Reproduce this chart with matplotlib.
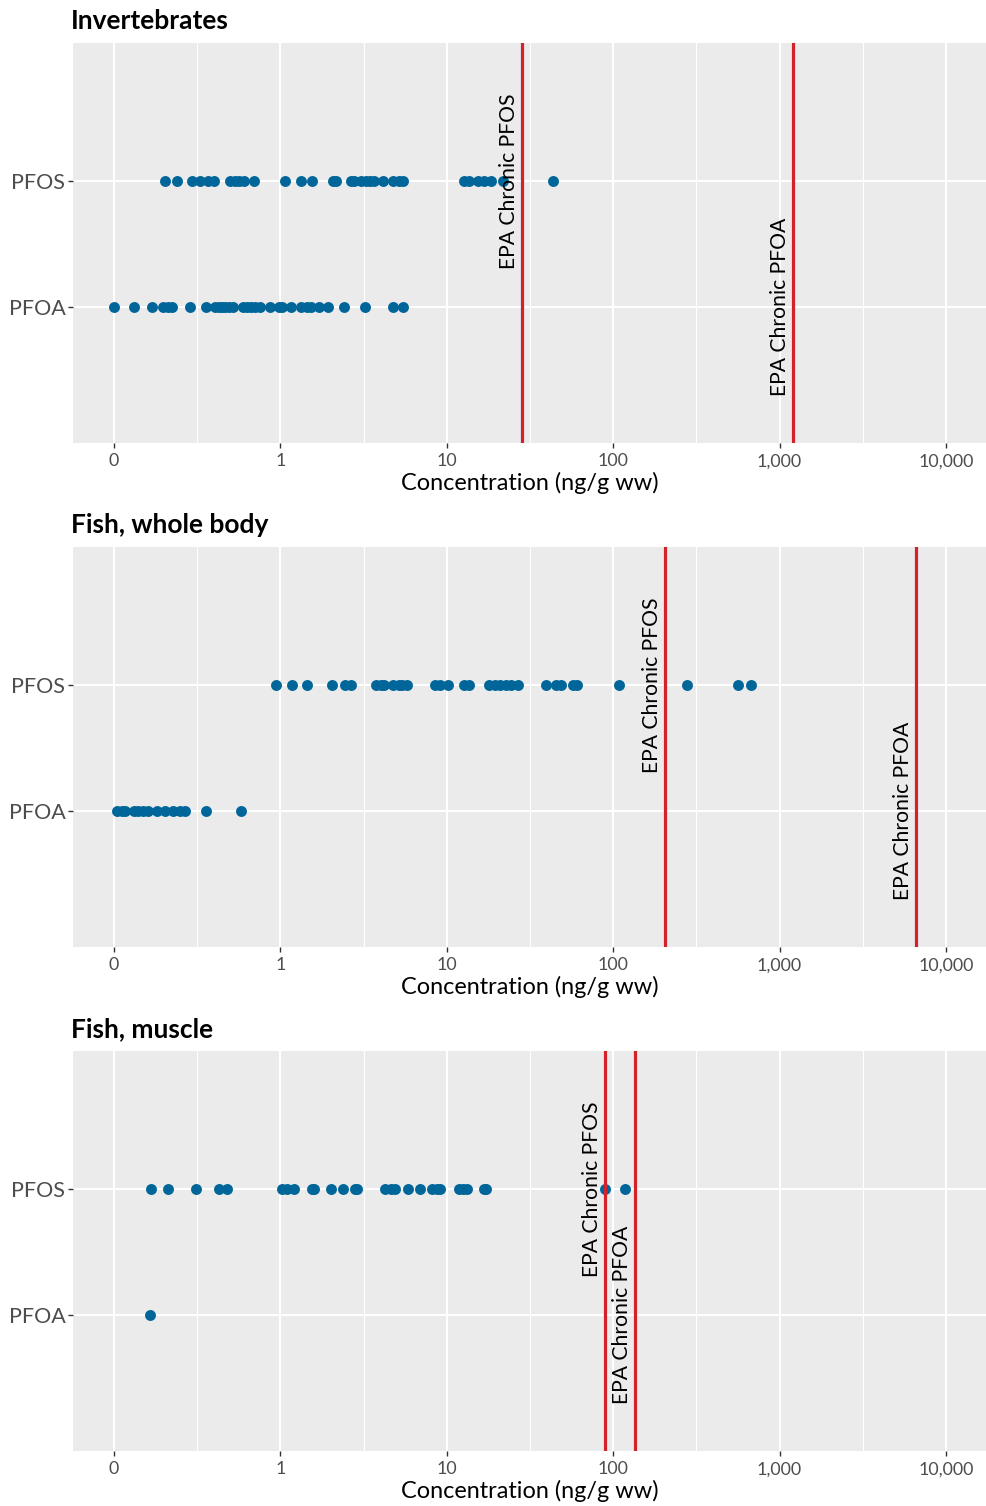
import matplotlib
matplotlib.use("Agg")
import matplotlib.pyplot as plt
import numpy as np

plt.rcParams['font.family'] = ['Lato', 'DejaVu Sans']

# ---------------- data ----------------
panel_titles = ["Invertebrates", "Fish, whole body", "Fish, muscle"]
categories = ["PFOA", "PFOS"]

inv_pfos = [0.203, 0.240, 0.295, 0.330, 0.366, 0.396, 0.500, 0.531, 0.561, 0.601,
            0.697, 1.06, 1.32, 1.54, 2.08, 2.17, 2.67, 2.76, 3.03, 3.25, 3.45, 3.65,
            4.16, 4.77, 5.16, 5.46, 12.6, 13.5, 15.4, 16.8, 18.4, 21.7, 43.4]
inv_pfoa = [0.100, 0.132, 0.170, 0.198, 0.212, 0.223, 0.287, 0.358, 0.406, 0.425,
            0.445, 0.466, 0.488, 0.519, 0.596, 0.630, 0.666, 0.707, 0.750, 0.871,
            0.977, 1.02, 1.16, 1.32, 1.45, 1.53, 1.70, 1.93, 2.41, 3.21, 4.75, 5.43]

wb_pfos = [0.942, 1.18, 1.45, 2.03, 2.46, 2.64, 3.77, 4.00, 4.19, 4.75, 5.14, 5.41,
           5.80, 8.47, 9.12, 10.2, 12.7, 13.6, 18.0, 19.5, 20.9, 22.7, 24.3, 26.9,
           39.5, 45.4, 48.6, 57.2, 60.7, 108, 278, 564, 678]
wb_pfoa = [0.104, 0.111, 0.116, 0.131, 0.140, 0.150, 0.161, 0.181, 0.203, 0.226,
           0.250, 0.268, 0.357, 0.580]

mu_pfos = [0.167, 0.211, 0.309, 0.425, 0.477, 1.02, 1.10, 1.21, 1.54, 1.60, 2.00,
           2.37, 2.79, 2.90, 4.23, 4.60, 4.86, 5.85, 6.90, 8.20, 8.71, 9.12, 11.8,
           12.5, 13.3, 16.8, 17.3, 89.9, 118]
mu_pfoa = [0.165]

epa_pfos = [28.2, 205, 89]
epa_pfoa = [1200, 6600, 135]

xticks = [0.1, 1, 10, 100, 1000, 10000]
xtick_labels = ["0", "1", "10", "100", "1,000", "10,000"]
xminor = [10 ** -0.5, 10 ** 0.5, 10 ** 1.5, 10 ** 2.5, 10 ** 3.5]
xlabel = "Concentration (ng/g ww)"

pfos_sets = [inv_pfos, wb_pfos, mu_pfos]
pfoa_sets = [inv_pfoa, wb_pfoa, mu_pfoa]

# ---------------- figure ----------------
W, H = 987, 1506
fig = plt.figure(figsize=(W / 100, H / 100), dpi=100)
fig.patch.set_facecolor("white")

panel_tops = [43, 547, 1051]
panel_h = 400
left_px, right_px = 73, 987

dot_color = "#00669a"
red = "#d3222a"
grey_txt = "#4d4d4d"

for i in range(3):
    top = panel_tops[i]
    ax = fig.add_axes([left_px / W, 1 - (top + panel_h) / H,
                       (right_px - left_px) / W, panel_h / H])
    ax.set_facecolor("#ebebeb")
    for s in ax.spines.values():
        s.set_visible(False)
    ax.set_xscale("log")
    ax.set_xlim(10 ** -1.247, 10 ** 4.247)
    ax.set_ylim(-0.08, 3.095)
    ax.set_xticks(xticks)
    ax.set_xticklabels(xtick_labels)
    ax.set_xticks(xminor, minor=True)
    ax.xaxis.set_minor_formatter(matplotlib.ticker.NullFormatter())
    ax.set_yticks([1, 2])
    ax.set_yticklabels(categories)
    ax.grid(True, which="major", color="white", linewidth=1.5)
    ax.grid(True, which="minor", axis="x", color="white", linewidth=0.8)
    ax.tick_params(axis="both", which="major", length=3.5, width=1.0,
                   color="#333333", labelcolor=grey_txt)
    ax.tick_params(axis="x", which="minor", length=0)
    ax.tick_params(axis="x", labelsize=12.8, pad=4)
    ax.tick_params(axis="y", labelsize=15.5, pad=2)
    ax.set_axisbelow(True)

    ax.scatter(pfos_sets[i], [2] * len(pfos_sets[i]), s=62, color=dot_color,
               zorder=3, linewidths=0)
    ax.scatter(pfoa_sets[i], [1] * len(pfoa_sets[i]), s=62, color=dot_color,
               zorder=3, linewidths=0)

    ax.axvline(epa_pfos[i], color=red, linewidth=2.3, zorder=4)
    ax.axvline(epa_pfoa[i], color=red, linewidth=2.3, zorder=4)
    ax.annotate("EPA Chronic PFOS", xy=(epa_pfos[i], 2), xytext=(-3, 0),
                textcoords="offset pixels", rotation=90, ha="right", va="center",
                fontsize=15.2, color="black", zorder=5)
    ax.annotate("EPA Chronic PFOA", xy=(epa_pfoa[i], 1), xytext=(-3, 0),
                textcoords="offset pixels", rotation=90, ha="right", va="center",
                fontsize=15.2, color="black", zorder=5)

    ax.set_xlabel(xlabel, fontsize=16.9, labelpad=2, color="black")
    fig.text(71 / W, 1 - (top - 22) / H, panel_titles[i], fontsize=19,
             fontweight="bold", ha="left", va="center")

fig.savefig("out.png", dpi=100)
